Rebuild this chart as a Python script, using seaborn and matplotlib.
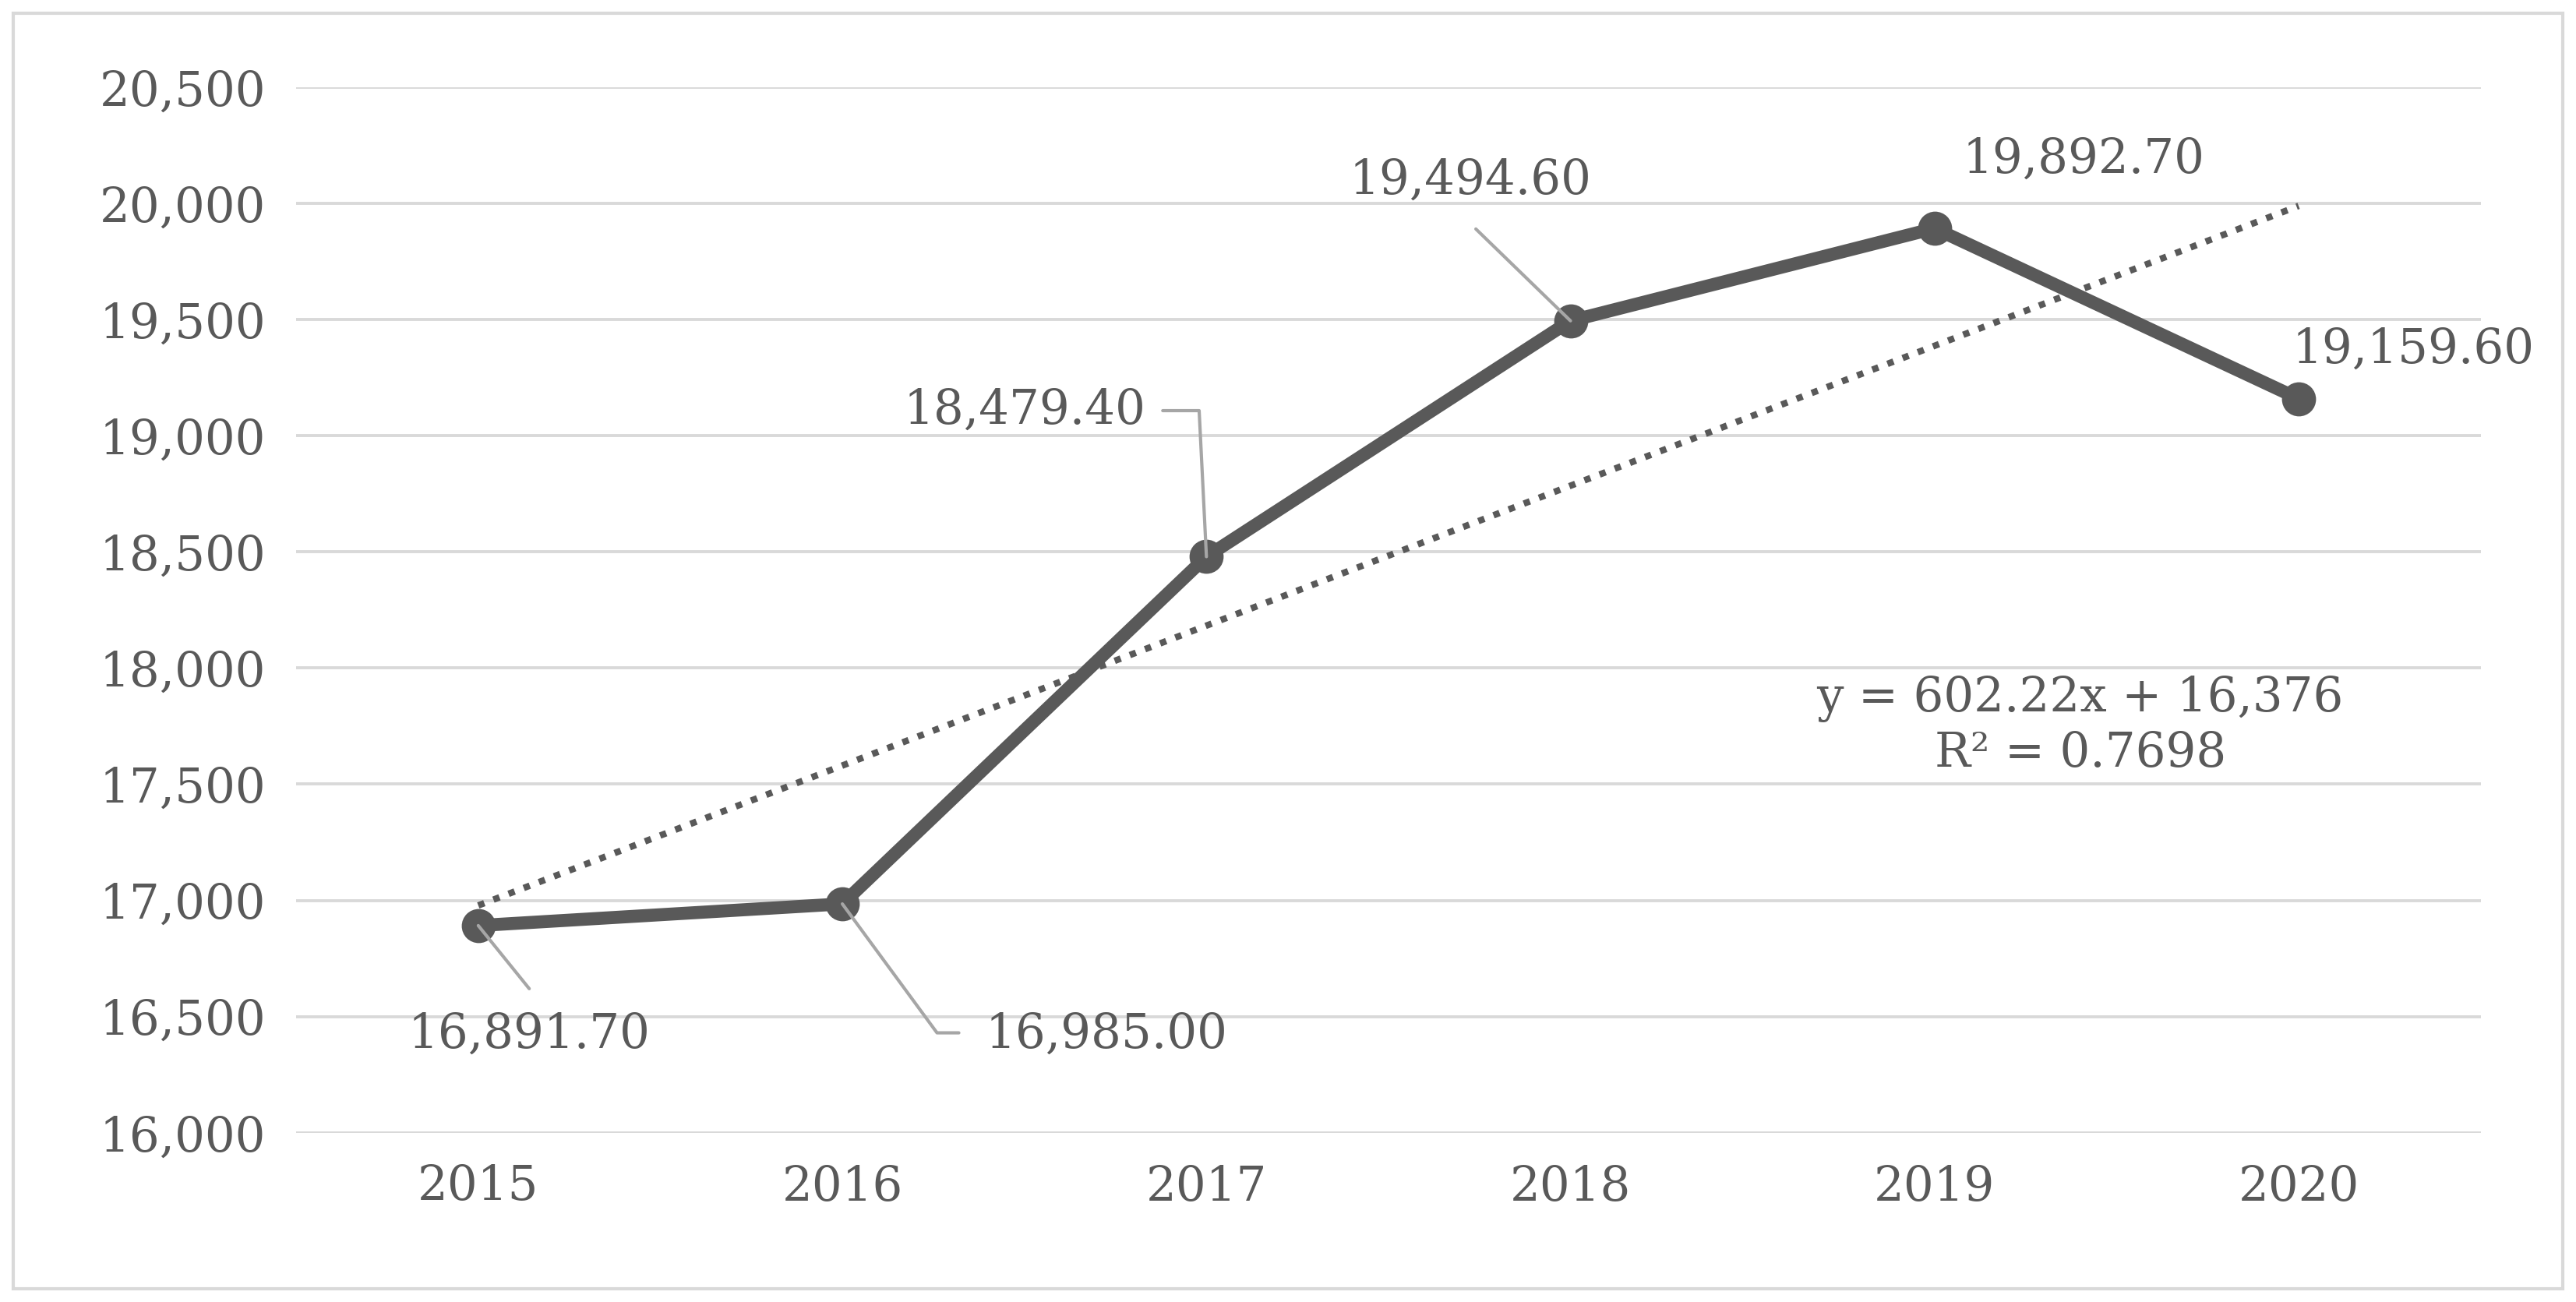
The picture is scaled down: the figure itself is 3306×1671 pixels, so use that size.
import matplotlib
matplotlib.use("Agg")
import matplotlib.pyplot as plt
import seaborn as sns
import pandas as pd
import numpy as np
from matplotlib.patches import Rectangle

years = ["2015", "2016", "2017", "2018", "2019", "2020"]
values = [16891.70, 16985.00, 18479.40, 19494.60, 19892.70, 19159.60]
labels = ["16,891.70", "16,985.00", "18,479.40", "19,494.60", "19,892.70", "19,159.60"]
slope, intercept = 602.22, 16376
yticks = [16000, 16500, 17000, 17500, 18000, 18500, 19000, 19500, 20000, 20500]

sns.set_theme(style="white")
plt.rcParams['font.family'] = ['DejaVu Serif', 'Liberation Serif']
grey = "#595959"

fig = plt.figure(figsize=(16.53, 8.355), dpi=200)
ax = fig.add_axes([0.115, 0.13, 0.848, 0.803])
df = pd.DataFrame({"x": np.arange(len(years)), "y": values})

xs = np.arange(len(years))
trend = slope * (xs + 1) + intercept
sns.lineplot(x=xs, y=trend, ax=ax, color=grey, linestyle=(0, (1, 1.5)), linewidth=3)
sns.lineplot(data=df, x="x", y="y", ax=ax, color=grey, linewidth=6,
             marker="o", markersize=15, markeredgecolor=grey)

ax.set_xlim(-0.5, 5.5)
ax.set_ylim(16000, 20500)
ax.set_yticks(yticks)
ax.set_yticklabels([f"{v:,}" for v in yticks])
ax.set_xticks(xs)
ax.set_xticklabels(years)
ax.grid(axis="y", color="#d9d9d9", linewidth=1.4)
ax.set_axisbelow(True)
for s in ax.spines.values():
    s.set_visible(False)
ax.tick_params(axis="both", colors=grey, labelsize=22, length=0, pad=14)
ax.set_xlabel(""); ax.set_ylabel("")

fs = 22
lc = "#a6a6a6"
ax.text(0.14, 16424, labels[0], ha="center", va="center", color=grey, fontsize=fs)
ax.plot([0.0, 0.14], [16891.7, 16620], color=lc, lw=1.5)
ax.text(1.725, 16424, labels[1], ha="center", va="center", color=grey, fontsize=fs)
ax.plot([1.0, 1.26, 1.32], [16985, 16430, 16430], color=lc, lw=1.5)
ax.text(1.50, 19108, labels[2], ha="center", va="center", color=grey, fontsize=fs)
ax.plot([2.0, 1.98, 1.88], [18479.4, 19108, 19108], color=lc, lw=1.5)
ax.text(2.725, 20097, labels[3], ha="center", va="center", color=grey, fontsize=fs)
ax.plot([3.0, 2.74], [19494.6, 19890], color=lc, lw=1.5)
ax.text(4.41, 20189, labels[4], ha="center", va="center", color=grey, fontsize=fs)
ax.text(5.315, 19370, labels[5], ha="center", va="center", color=grey, fontsize=fs)

ax.text(4.40, 17750, "y = 602.22x + 16,376\nR² = 0.7698", ha="center", va="center",
        color=grey, fontsize=fs, linespacing=1.2)

fig.patches.append(Rectangle((0.005, 0.01), 0.99, 0.98, transform=fig.transFigure,
                             fill=False, edgecolor="#d9d9d9", linewidth=1.5))
fig.savefig("out.png", dpi=200)
